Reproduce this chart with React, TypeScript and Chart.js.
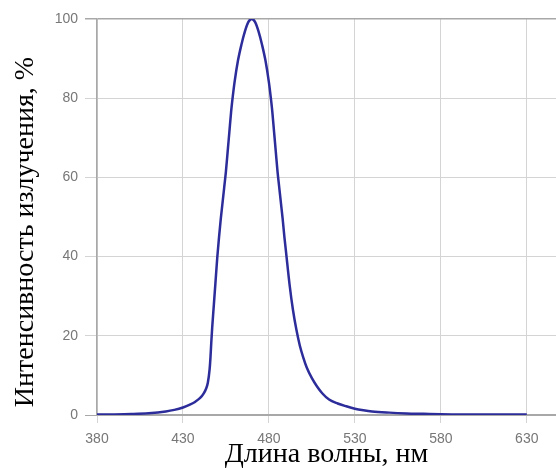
import React, { useEffect, useRef } from "react";
import { Chart, registerables } from "chart.js";

Chart.register(...registerables);

const wavelengths = [380, 390, 400, 410, 420, 425, 430, 434, 437, 440, 442, 443.5, 444.5, 445.5, 446, 446.5, 447, 448, 449, 450, 451, 452, 453, 454, 455, 456, 457, 458, 459, 460, 462, 464, 466, 468, 470, 472, 474, 476, 478, 480, 481, 482, 483, 484, 485, 486, 487, 488, 489, 490, 492, 494, 496, 498, 500, 502, 505, 508, 511, 515, 520, 525, 530, 535, 540, 550, 560, 570, 580, 600, 630];
const intensity = [0.1, 0.15, 0.25, 0.45, 0.9, 1.3, 1.9, 2.6, 3.3, 4.3, 5.4, 6.7, 8.2, 11.5, 14.5, 18.5, 22, 28, 34, 40, 45, 49.5, 53.5, 57.5, 61.5, 66.5, 71.5, 76.5, 80.5, 84, 89.5, 93.5, 96.8, 99.2, 100, 99.2, 96.8, 93.5, 89.5, 84, 80.5, 76.5, 71.5, 66.5, 61.5, 57.5, 53.5, 49.5, 45, 41, 33, 26.5, 21.5, 17.5, 14.5, 12, 9.3, 7.2, 5.5, 3.9, 2.9, 2.2, 1.6, 1.2, 0.9, 0.6, 0.4, 0.3, 0.2, 0.1, 0.1];
const xTicks = [380, 430, 480, 530, 580, 630];
const yTicks = [0, 20, 40, 60, 80, 100];
const xTitle = "Длина волны, нм";
const yTitle = "Интенсивность излучения, %";

const titlesPlugin = {
  id: "axisTitles",
  afterDraw(chart: any) {
    const ctx = chart.ctx;
    const area = chart.chartArea;
    ctx.save();
    ctx.fillStyle = "#000";
    ctx.font = "28px 'Liberation Serif', 'Times New Roman', serif";
    ctx.textAlign = "center";
    ctx.textBaseline = "alphabetic";
    ctx.fillText(xTitle, (area.left + area.right) / 2, 462);
    ctx.translate(33, 232);
    ctx.rotate(-Math.PI / 2);
    ctx.font = "28px 'Liberation Serif', 'Times New Roman', serif";
    ctx.fillText(yTitle, 0, 0);
    ctx.restore();
  },
};

export default function App() {
  const ref = useRef<HTMLCanvasElement>(null);
  useEffect(() => {
    document.body.style.margin = "0";
    const canvas = ref.current!;
    const chart = new Chart(canvas, {
      type: "line",
      data: {
        datasets: [
          {
            data: wavelengths.map((w, i) => ({ x: w, y: intensity[i] })),
            borderColor: "#2c2c9a",
            borderWidth: 2.5,
            pointRadius: 0,
            fill: false,
            cubicInterpolationMode: "monotone",
          },
        ],
      },
      options: {
        animation: false,
        responsive: false,
        devicePixelRatio: 1,
        layout: { padding: { top: 19, right: 0, left: 0, bottom: 0 } },
        plugins: { legend: { display: false }, tooltip: { enabled: false } },
        scales: {
          x: {
            type: "linear",
            min: 380,
            max: 647,
            afterBuildTicks: (s: any) => {
              s.ticks = xTicks.map((v) => ({ value: v }));
            },
            afterFit: (s: any) => {
              s.height = 53;
            },
            grid: {
              color: "#d4d4d4",
              lineWidth: 1,
              tickLength: 8,
            },
            border: { color: "#a8a8a8", width: 1.5 },
            ticks: {
              color: "#777",
              font: { family: "'Liberation Sans', Arial, sans-serif", size: 14 },
              padding: 8,
              maxRotation: 0,
              autoSkip: false,
            },
          },
          y: {
            min: 0,
            max: 100,
            afterBuildTicks: (s: any) => {
              s.ticks = yTicks.map((v) => ({ value: v }));
            },
            afterFit: (s: any) => {
              s.width = 97;
            },
            grid: {
              color: (c: any) => (c.tick && (c.tick.value === 100 || c.tick.value === 0) ? "#a8a8a8" : "#d4d4d4"),
              lineWidth: (c: any) => (c.tick && c.tick.value === 100 ? 1.5 : 1),
              tickLength: 12,
            },
            border: { color: "#a8a8a8", width: 1.5 },
            ticks: {
              color: "#777",
              font: { family: "'Liberation Sans', Arial, sans-serif", size: 14 },
              padding: 7,
            },
          },
        },
      },
      plugins: [titlesPlugin],
    });
    return () => chart.destroy();
  }, []);
  return (
    <div style={{ position: "absolute", left: 0, top: 0, width: 556, height: 468 }}>
      <canvas ref={ref} width={556} height={468} />
    </div>
  );
}
